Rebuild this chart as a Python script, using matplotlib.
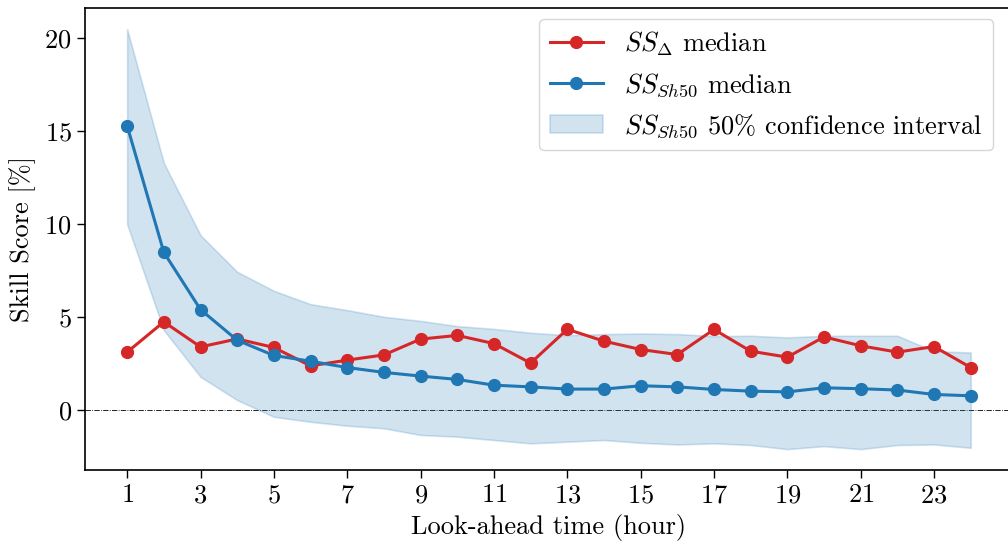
import matplotlib
matplotlib.use("Agg")
import matplotlib.pyplot as plt
import numpy as np

plt.rcParams.update({
    "font.family": "serif",
    "font.serif": ["cmr10"],
    "mathtext.fontset": "cm",
    "axes.formatter.use_mathtext": True,
    "axes.unicode_minus": False,
    "font.size": 19,
})

hours = list(range(1, 25))
ss_delta_median = [3.12, 4.75, 3.40, 3.83, 3.37, 2.38, 2.69, 2.97, 3.82, 4.02, 3.58, 2.53,
                   4.35, 3.71, 3.26, 2.99, 4.34, 3.17, 2.85, 3.94, 3.46, 3.12, 3.42, 2.29]
ss_sh50_median = [15.3, 8.49, 5.41, 3.76, 2.94, 2.63, 2.29, 2.03, 1.83, 1.65, 1.34, 1.25,
                  1.13, 1.13, 1.31, 1.25, 1.11, 1.02, 0.98, 1.20, 1.15, 1.08, 0.84, 0.77]
ss_sh50_upper = [20.5, 13.3, 9.41, 7.44, 6.42, 5.70, 5.38, 5.02, 4.80, 4.52, 4.37, 4.16,
                 4.03, 4.09, 4.12, 4.09, 3.98, 4.00, 3.91, 4.00, 4.00, 4.00, 3.17, 3.10]
ss_sh50_lower = [10.0, 4.30, 1.79, 0.54, -0.36, -0.63, -0.84, -0.98, -1.34, -1.43, -1.61, -1.79,
                 -1.70, -1.61, -1.76, -1.85, -1.79, -1.88, -2.10, -1.94, -2.10, -1.88, -1.85, -2.03]
xticks = list(range(1, 25, 2))

fig = plt.figure(figsize=(10.08, 5.46), dpi=100)
# the right spine sits just past the figure edge
ax = fig.add_axes([0.0843, 0.139, 0.9206, 0.846])

ax.axhline(0, color="black", linestyle="-.", linewidth=0.6, zorder=1)
ax.fill_between(hours, ss_sh50_lower, ss_sh50_upper, color="tab:blue", alpha=0.2,
                linewidth=1.2, label=r"$SS_{Sh50}$ 50% confidence interval", zorder=2)
ax.plot(hours, ss_delta_median, "-o", color="tab:red", linewidth=2.2, markersize=8.5,
        label=r"$SS_\Delta$ median", zorder=3)
ax.plot(hours, ss_sh50_median, "-o", color="tab:blue", linewidth=2.2, markersize=8.5,
        label=r"$SS_{Sh50}$ median", zorder=4)

ax.set_xticks(xticks)
ax.set_yticks([0, 5, 10, 15, 20])
ax.tick_params(direction="out", length=6, width=1)
ax.set_xlabel("Look-ahead time (hour)", labelpad=5)
ax.set_ylabel("Skill Score [%]", labelpad=6)
for s in ax.spines.values():
    s.set_linewidth(1.2)

handles, labels = ax.get_legend_handles_labels()
order = [1, 2, 0]
ax.legend([handles[i] for i in order], [labels[i] for i in order], loc="upper right",
          fontsize=19, framealpha=0.8, borderpad=0.4, handlelength=2.0,
          bbox_to_anchor=(0.99, 1.0), borderaxespad=0.4)

fig.savefig("out.png", dpi=100)
